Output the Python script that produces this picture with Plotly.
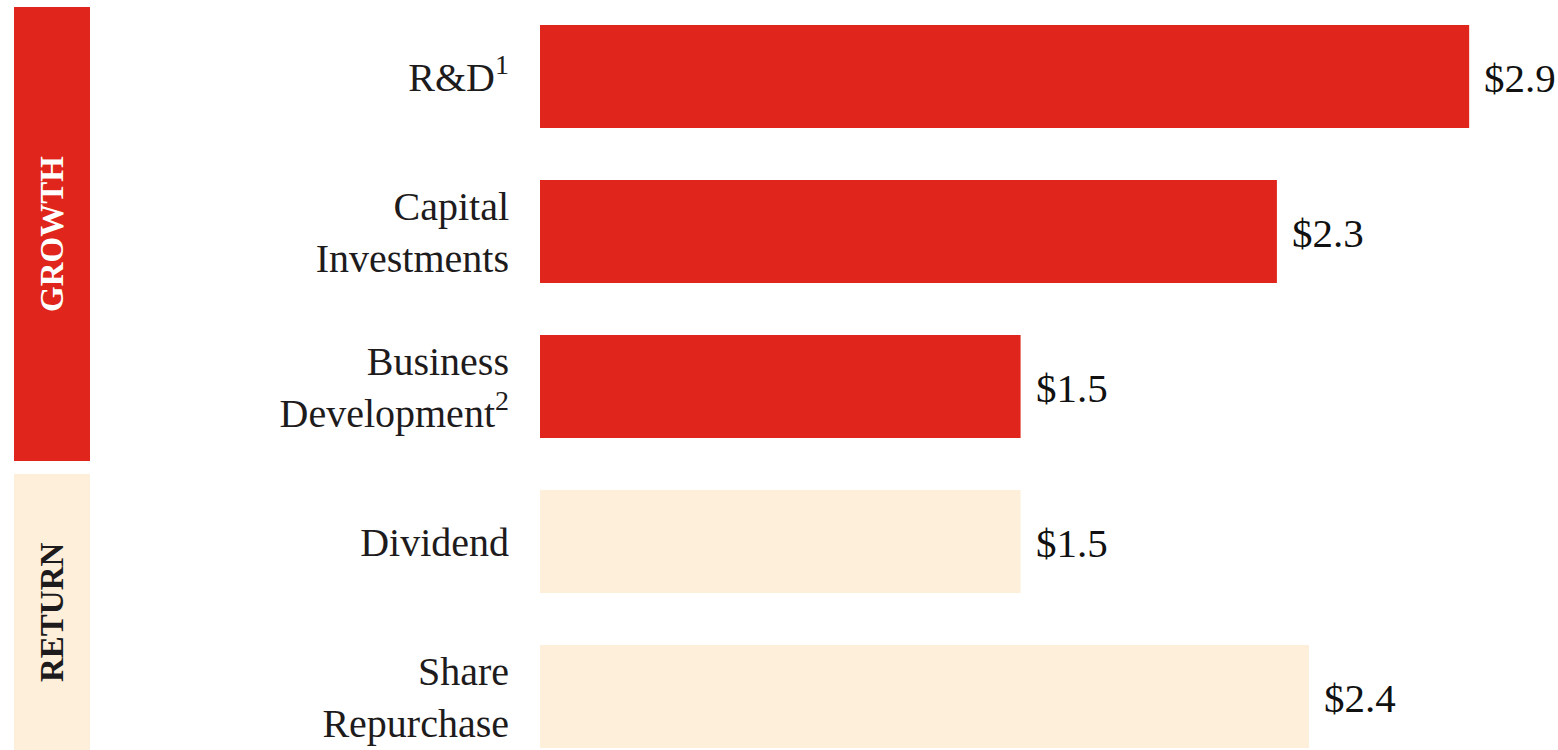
import plotly.graph_objects as go

# ---- data ----
categories = ["R&D<sup>1</sup>", "Capital<br>Investments", "Business<br>Development<sup>2</sup>",
              "Dividend", "Share<br>Repurchase"]
values = [2.9, 2.3, 1.5, 1.5, 2.4]
groups = ["GROWTH", "GROWTH", "GROWTH", "RETURN", "RETURN"]
value_labels = ["$2.9", "$2.3", "$1.5", "$1.5", "$2.4"]

# ---- style ----
W, H = 1558, 750
RED = "#E0261C"
CREAM = "#FDEFDA"
DARK = "#1E1B1C"
FONT = "Liberation Serif"
group_colors = {"GROWTH": RED, "RETURN": CREAM}
bar_colors = [group_colors[g] for g in groups]

px_per_unit = 320.4
plot_left = 540
x_max = (W - plot_left) / px_per_unit

# y geometry: category centres at 76.5 + 155*i px
pitch = 155.0
first_center = 76.5
y_top = -first_center / pitch
y_bottom = (H - first_center) / pitch

fig = go.Figure()
fig.add_trace(go.Bar(
    x=values, y=categories, orientation="h",
    marker=dict(color=bar_colors, line=dict(width=0)),
    width=103 / pitch,
    hoverinfo="x+y",
))

for v, c, t in zip(values, categories, value_labels):
    fig.add_annotation(x=v, y=c, xref="x", yref="y", text=t, showarrow=False,
                       xanchor="left", yanchor="middle", xshift=13, yshift=-1,
                       font=dict(family=FONT, size=41, color="#111111"))

# group boxes (pixel geometry -> paper)
def px_x(p):
    return p / W

def px_y(p):
    return 1 - p / H

boxes = [
    ("GROWTH", 14, 90, 7, 461, RED, "white"),
    ("RETURN", 14, 90, 474, 750, CREAM, DARK),
]
for label, x0, x1, y0, y1, fill, tcol in boxes:
    fig.add_shape(type="rect", xref="paper", yref="paper",
                  x0=px_x(x0), x1=px_x(x1), y0=px_y(y1), y1=px_y(y0),
                  fillcolor=fill, line=dict(width=0), layer="below")
    fig.add_annotation(xref="paper", yref="paper",
                       x=px_x((x0 + x1) / 2), y=px_y((y0 + y1) / 2),
                       text=f"<b>{label}</b>", textangle=-90, showarrow=False,
                       xanchor="center", yanchor="middle",
                       font=dict(family=FONT, size=33, color=tcol))

fig.update_layout(
    width=W, height=H,
    margin=dict(l=0, r=0, t=0, b=0),
    paper_bgcolor="white", plot_bgcolor="white",
    showlegend=False,
    xaxis=dict(domain=[plot_left / W, 1], range=[0, x_max], visible=False, fixedrange=True),
    yaxis=dict(type="category", range=[y_bottom, y_top], showgrid=False, zeroline=False,
               showline=False, ticks="", ticklabelstandoff=30,
               tickfont=dict(family=FONT, size=40, color=DARK), fixedrange=True),
)

fig.write_html("out.html", config={"displayModeBar": False},
               post_script="document.body.style.margin='0';document.body.style.overflow='hidden';")
